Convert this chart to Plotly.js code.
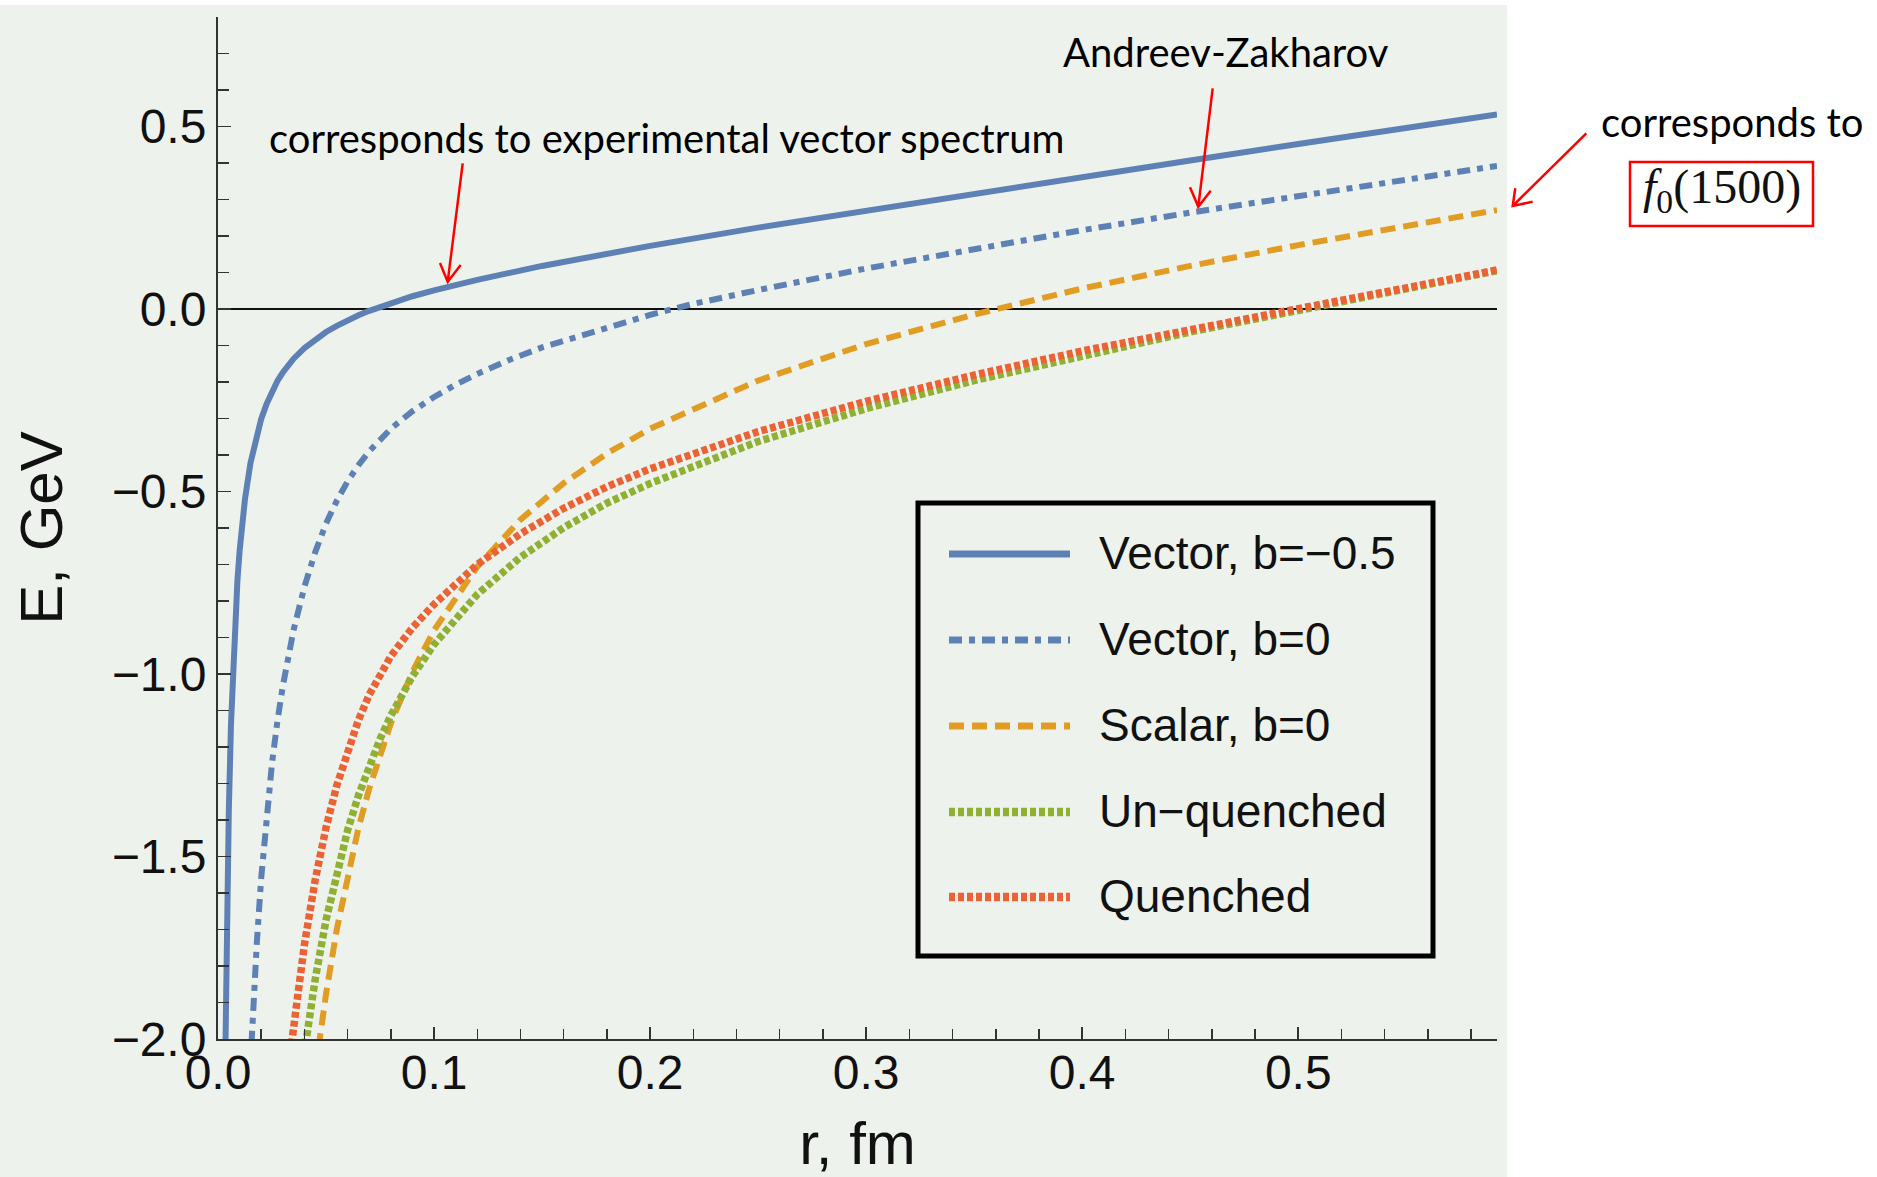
<!DOCTYPE html>
<html>
<head>
<meta charset="utf-8">
<script src="https://cdn.plot.ly/plotly-3.0.1.min.js"></script>
<style>html,body{margin:0;padding:0;background:#fff;}#chart{width:1877px;height:1177px;}</style>
</head>
<body>
<div id="chart"></div>
<script>
// ---- data (r in fm, E in GeV) ----
const seriesNames = ["Vector, b=\u22120.5", "Vector, b=0", "Scalar, b=0", "Un\u2212quenched", "Quenched"];

const rVecNeg = [0.0034, 0.004, 0.0045, 0.005, 0.006, 0.007, 0.008, 0.009, 0.01, 0.0125, 0.015, 0.0175, 0.02, 0.0225, 0.025, 0.0275, 0.03, 0.035, 0.04, 0.045, 0.05, 0.055, 0.06, 0.065, 0.07, 0.08, 0.09, 0.1, 0.12, 0.15, 0.2, 0.25, 0.3, 0.35, 0.4, 0.45, 0.5, 0.55, 0.592];
const eVecNeg = [-2.04, -1.731, -1.533, -1.376, -1.139, -0.969, -0.842, -0.743, -0.663, -0.52, -0.423, -0.354, -0.301, -0.26, -0.226, -0.197, -0.174, -0.136, -0.107, -0.083, -0.063, -0.046, -0.03, -0.017, -0.005, 0.016, 0.035, 0.051, 0.08, 0.118, 0.173, 0.223, 0.27, 0.317, 0.362, 0.407, 0.452, 0.496, 0.533];

const rVec0 = [0.0155, 0.0165, 0.018, 0.02, 0.0225, 0.025, 0.0275, 0.03, 0.035, 0.04, 0.045, 0.05, 0.055, 0.06, 0.065, 0.07, 0.08, 0.09, 0.1, 0.11, 0.12, 0.135, 0.15, 0.18, 0.2, 0.22, 0.25, 0.3, 0.35, 0.4, 0.45, 0.5, 0.55, 0.592];
const eVec0 = [-2.013, -1.891, -1.733, -1.559, -1.384, -1.244, -1.129, -1.033, -0.879, -0.761, -0.666, -0.588, -0.525, -0.472, -0.428, -0.39, -0.328, -0.28, -0.241, -0.207, -0.178, -0.139, -0.105, -0.049, -0.016, 0.014, 0.052, 0.111, 0.165, 0.216, 0.264, 0.31, 0.355, 0.392];

const rScalar = [0.0465, 0.05, 0.055, 0.06, 0.065, 0.07, 0.075, 0.08, 0.09, 0.1, 0.12, 0.14, 0.16, 0.18, 0.2, 0.25, 0.3, 0.35, 0.4, 0.45, 0.5, 0.55, 0.592];
const eScalar = [-2.025, -1.877, -1.699, -1.55, -1.422, -1.314, -1.218, -1.135, -0.994, -0.88, -0.706, -0.577, -0.477, -0.396, -0.328, -0.196, -0.096, -0.015, 0.056, 0.118, 0.175, 0.228, 0.271];

const rUnq = [0.0405, 0.0425, 0.045, 0.05, 0.055, 0.06, 0.065, 0.07, 0.075, 0.08, 0.09, 0.1, 0.12, 0.14, 0.16, 0.18, 0.2, 0.25, 0.3, 0.35, 0.4, 0.45, 0.5, 0.55, 0.592];
const eUnq = [-2.016, -1.931, -1.836, -1.674, -1.54, -1.428, -1.333, -1.25, -1.178, -1.114, -1.006, -0.919, -0.782, -0.68, -0.599, -0.532, -0.478, -0.363, -0.273, -0.196, -0.127, -0.063, -0.004, 0.056, 0.105];

const rQ = [0.034, 0.036, 0.038, 0.04, 0.045, 0.05, 0.055, 0.06, 0.065, 0.07, 0.075, 0.08, 0.09, 0.1, 0.12, 0.14, 0.16, 0.18, 0.2, 0.25, 0.3, 0.35, 0.4, 0.45, 0.5, 0.55, 0.592];
const eQ = [-2.015, -1.918, -1.83, -1.741, -1.564, -1.421, -1.305, -1.207, -1.126, -1.057, -1.0, -0.951, -0.873, -0.809, -0.7, -0.616, -0.546, -0.487, -0.438, -0.336, -0.253, -0.181, -0.115, -0.055, 0.001, 0.058, 0.107];

const xTickVals = [0, 0.1, 0.2, 0.3, 0.4, 0.5];
const yTickVals = [-2, -1.5, -1, -0.5, 0, 0.5];

// ---- layout geometry ----
const W = 1877, H = 1177;
const M = {l: 218, r: 380, t: 17, b: 138};
const PW = W - M.l - M.r, PH = H - M.t - M.b;
const px = X => (X - M.l) / PW;
const py = Y => (H - M.b - Y) / PH;

const BLUE = "#5e81b5", ORANGE = "#e19c24", GREEN = "#8fb032", RED = "#eb6235";
const styles = [
  {color: BLUE, width: 6, dash: "solid"},
  {color: BLUE, width: 6, dash: "13px,7px,6px,7px"},
  {color: ORANGE, width: 6, dash: "15px,8px"},
  {color: GREEN, width: 7.5, dash: "6px,3px"},
  {color: RED, width: 7.5, dash: "6px,3px"}
];
const xs = [rVecNeg, rVec0, rScalar, rUnq, rQ];
const ys = [eVecNeg, eVec0, eScalar, eUnq, eQ];

const data = xs.map((x, i) => ({
  x: x, y: ys[i], type: "scatter", mode: "lines", name: seriesNames[i],
  line: {color: styles[i].color, width: styles[i].width, dash: styles[i].dash},
  hoverinfo: "skip", showlegend: false
}));

const shapes = [
  {type: "rect", xref: "paper", yref: "paper", x0: px(0), x1: px(1507), y0: py(1177), y1: py(5),
   fillcolor: "#eef2ec", line: {width: 0}, layer: "below"},
  {type: "rect", xref: "paper", yref: "paper", x0: px(1630), x1: px(1813), y0: py(226), y1: py(162),
   fillcolor: "rgba(0,0,0,0)", line: {color: "#ff0000", width: 2.5}}
];

// red arrows (pixel geometry of the callouts)
const arrows = [
  {tail: [462.7, 163.3], tip: [447.7, 281.7], w1: [440, 263], w2: [460.7, 265]},
  {tail: [1212.7, 88.3], tip: [1198.3, 206.7], w1: [1190, 187.3], w2: [1210.7, 190.7]},
  {tail: [1586.3, 133.3], tip: [1512.7, 206], w1: [1515.3, 188.3], w2: [1532.6, 201.7]}
];
arrows.forEach(a => {
  const p = [a.tail, a.tip, a.w1, a.tip, a.w2];
  const path = "M" + px(p[0][0]) + "," + py(p[0][1]) + " L" + px(p[1][0]) + "," + py(p[1][1]) +
    " M" + px(p[2][0]) + "," + py(p[2][1]) + " L" + px(p[3][0]) + "," + py(p[3][1]) +
    " L" + px(p[4][0]) + "," + py(p[4][1]);
  shapes.push({type: "path", xref: "paper", yref: "paper", path: path,
    line: {color: "#ff0000", width: 2.5}});
});

// legend box (drawn in the style of the reference)
const LEG = {x0: 918, x1: 1433, y0: 503, y1: 956, lineX0: 949, lineX1: 1070, textX: 1097, rows: [554, 640, 726, 812, 897]};
shapes.push({type: "rect", xref: "paper", yref: "paper", x0: px(LEG.x0), x1: px(LEG.x1), y0: py(LEG.y1), y1: py(LEG.y0),
  fillcolor: "rgba(0,0,0,0)", line: {color: "#000", width: 5}});
const annotations = [];
styles.forEach((s, i) => {
  shapes.push({type: "line", xref: "paper", yref: "paper", x0: px(LEG.lineX0), x1: px(LEG.lineX1),
    y0: py(LEG.rows[i]), y1: py(LEG.rows[i]), line: {color: s.color, width: s.width + 1, dash: s.dash}});
  annotations.push({text: seriesNames[i], xref: "paper", yref: "paper", x: px(LEG.textX), y: py(LEG.rows[i] - 1),
    xanchor: "left", yanchor: "middle", showarrow: false,
    font: {family: "'Liberation Sans', Arial, sans-serif", size: 46, color: "#111"}});
});

const noteFont = {family: "Lato, 'Open Sans', sans-serif", size: 40, color: "#000"};
[
  {text: "corresponds to experimental vector spectrum", x: px(666), y: py(138)},
  {text: "Andreev-Zakharov", x: px(1226), y: py(52)},
  {text: "corresponds to", x: px(1732), y: py(122)}
].forEach(a => annotations.push(Object.assign({xref: "paper", yref: "paper", showarrow: false, xanchor: "center",
  yanchor: "middle", font: noteFont}, a)));
annotations.push({text: "<i>f</i><sub>0</sub>(1500)", xref: "paper", yref: "paper", x: px(1722), y: py(190),
  showarrow: false, xanchor: "center", yanchor: "middle",
  font: {family: "'Liberation Serif', 'DejaVu Serif', serif", size: 48, color: "#111"}});

const axFont = {family: "'Liberation Sans', Arial, sans-serif", size: 48, color: "#111"};
const titleFont = {family: "'Liberation Sans', Arial, sans-serif", size: 60, color: "#111"};

const layout = {
  width: W, height: H,
  margin: M,
  paper_bgcolor: "#ffffff",
  plot_bgcolor: "rgba(0,0,0,0)",
  showlegend: false,
  xaxis: {range: [0, 0.592], showgrid: false, zeroline: false, showline: true, linecolor: "#333", linewidth: 2,
    ticks: "inside", ticklen: 12, tickwidth: 1.5, tickcolor: "#333",
    tickvals: xTickVals, tickformat: ".1f", tickfont: axFont, ticklabelstandoff: -10,
    minor: {dtick: 0.02, ticks: "inside", ticklen: 10, tickwidth: 1.5, tickcolor: "#333", showgrid: false},
    title: {text: "r, fm", font: titleFont, standoff: 34}},
  yaxis: {range: [-2, 0.8], showgrid: false, zeroline: true, zerolinecolor: "#111", zerolinewidth: 1.5,
    showline: true, linecolor: "#333", linewidth: 2,
    ticks: "inside", ticklen: 13, tickwidth: 1.5, tickcolor: "#333",
    tickvals: yTickVals, tickformat: ".1f", tickfont: axFont, ticklabelstandoff: 0,
    minor: {dtick: 0.1, ticks: "inside", ticklen: 11, tickwidth: 1.5, tickcolor: "#333", showgrid: false},
    title: {text: "E, GeV", font: titleFont, standoff: 30}},
  shapes: shapes,
  annotations: annotations
};

Plotly.newPlot("chart", data, layout, {displayModeBar: false, staticPlot: true});
</script>
</body>
</html>
